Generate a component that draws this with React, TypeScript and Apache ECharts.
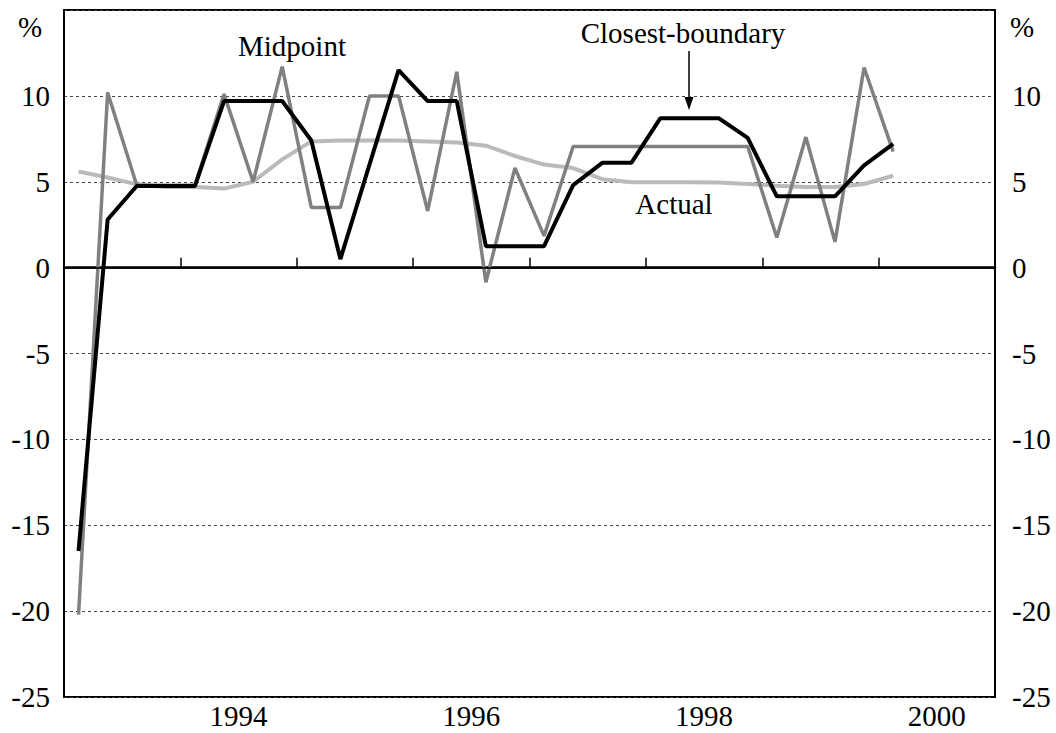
import React, { useEffect, useRef } from "react";
import * as echarts from "echarts";

// Years shown on the category axis (ticks at year boundaries)
const years = ["1993", "1994", "1995", "1996", "1997", "1998", "1999", "2000"];
// Quarters (data are plotted at mid-quarter)
const quarters = years.flatMap((y) => ["Q1", "Q2", "Q3", "Q4"].map((q) => `${y}${q}`));

// 1993Q1 .. 2000Q1
const closestBoundary = [
  -16.5, 2.8, 4.75, 4.75, 4.75, 9.7, 9.7, 9.7, 7.4, 0.5, 6.0, 11.5, 9.7, 9.7, 1.25,
  1.25, 1.25, 4.8, 6.1, 6.1, 8.7, 8.7, 8.7, 7.55, 4.15, 4.15, 4.15, 5.95, 7.2,
];
const midpoint = [
  -20.2, 10.2, 4.8, 4.8, 4.8, 10.1, 5.0, 11.7, 3.5, 3.5, 10.0, 10.0, 3.3, 11.4, -0.85,
  5.8, 1.85, 7.05, 7.05, 7.05, 7.05, 7.05, 7.05, 7.05, 1.75, 7.6, 1.5, 11.65, 6.75,
];
const actual = [
  5.6, 5.25, 4.85, 4.7, 4.7, 4.6, 5.0, 6.3, 7.35, 7.4, 7.4, 7.4, 7.35, 7.28, 7.1, 6.5,
  6.0, 5.8, 5.15, 4.97, 4.97, 4.97, 4.95, 4.87, 4.77, 4.7, 4.7, 4.87, 5.35,
];
const labeledYears = ["1994", "1996", "1998", "2000"];

const FONT = "'Liberation Serif', 'Times New Roman', serif";
const FS = 29;

export default function App() {
  const ref = useRef<HTMLDivElement>(null);
  useEffect(() => {
    if (!ref.current) return;
    const chart = echarts.init(ref.current, null, { renderer: "svg" });
    const yAxisBase = {
      type: "value",
      min: -25,
      max: 15,
      interval: 5,
      axisLine: { show: true, lineStyle: { color: "#000", width: 2 } },
      axisTick: { show: false },
      axisLabel: {
        formatter: (v: number) => (v === 15 ? "" : String(v)),
        fontFamily: FONT,
        fontSize: FS,
        color: "#000",
      },
    };
    chart.setOption({
      animation: false,
      backgroundColor: "#fff",
      grid: {
        left: 64,
        right: 61,
        top: 10,
        bottom: 36,
        show: true,
        borderColor: "#000",
        borderWidth: 2,
      },
      xAxis: [
        {
          type: "category",
          data: years,
          boundaryGap: true,
          position: "bottom",
          axisLine: { show: true, lineStyle: { color: "#000", width: 2.5 } },
          axisTick: { show: true, inside: true, length: 10, lineStyle: { color: "#000", width: 1.5 } },
          axisLabel: {
            interval: 0,
            formatter: (v: string) => (labeledYears.includes(v) ? v : ""),
            fontFamily: FONT,
            fontSize: FS,
            color: "#000",
            margin: 4,
          },
          splitLine: { show: false },
        },
        {
          type: "category",
          data: quarters,
          boundaryGap: true,
          show: false,
        },
      ],
      yAxis: [
        {
          ...yAxisBase,
          position: "left",
          axisLabel: { ...yAxisBase.axisLabel, margin: 14 },
          splitLine: { show: true, lineStyle: { color: "#444", type: [3, 3], width: 1 } },
        },
        {
          ...yAxisBase,
          position: "right",
          axisLabel: { ...yAxisBase.axisLabel, margin: 17 },
          splitLine: { show: false },
        },
      ],
      series: [
        {
          name: "Actual",
          type: "line",
          xAxisIndex: 1,
          yAxisIndex: 0,
          data: actual,
          symbol: "none",
          z: 2,
          lineStyle: { color: "#bababa", width: 4 },
          markLine: {
            silent: true,
            symbol: "none",
            label: { show: false },
            lineStyle: { color: "#000", type: "solid", width: 1.5 },
            data: [{ yAxis: 0 }],
          },
        },
        {
          name: "Midpoint",
          type: "line",
          xAxisIndex: 1,
          yAxisIndex: 0,
          data: midpoint,
          symbol: "none",
          z: 3,
          lineStyle: { color: "#808080", width: 3.5 },
        },
        {
          name: "Closest-boundary",
          type: "line",
          xAxisIndex: 1,
          yAxisIndex: 0,
          data: closestBoundary,
          symbol: "none",
          z: 4,
          lineStyle: { color: "#000", width: 4 },
        },
      ],
      graphic: [
        { type: "text", left: 18, top: 12, style: { text: "%", font: `${FS}px ${FONT}`, fill: "#000" } },
        { type: "text", x: 1010, y: 12, style: { text: "%", font: `${FS}px ${FONT}`, fill: "#000" } },
        {
          type: "text",
          x: 292,
          y: 46,
          style: { text: "Midpoint", font: `${FS}px ${FONT}`, fill: "#000", textAlign: "center", textVerticalAlign: "middle" },
        },
        {
          type: "text",
          x: 683,
          y: 33,
          style: { text: "Closest-boundary", font: `${FS}px ${FONT}`, fill: "#000", textAlign: "center", textVerticalAlign: "middle" },
        },
        {
          type: "text",
          x: 674,
          y: 204,
          style: { text: "Actual", font: `${FS}px ${FONT}`, fill: "#000", textAlign: "center", textVerticalAlign: "middle" },
        },
        {
          type: "line",
          shape: { x1: 689, y1: 51, x2: 689, y2: 100 },
          style: { stroke: "#000", lineWidth: 1.5 },
        },
        {
          type: "polygon",
          shape: { points: [[684.5, 97], [693.5, 97], [689, 110]] },
          style: { fill: "#000" },
        },
      ],
    });
    return () => chart.dispose();
  }, []);
  return <div ref={ref} style={{ position: "fixed", left: 0, top: 0, width: 1056, height: 733 }} />;
}
